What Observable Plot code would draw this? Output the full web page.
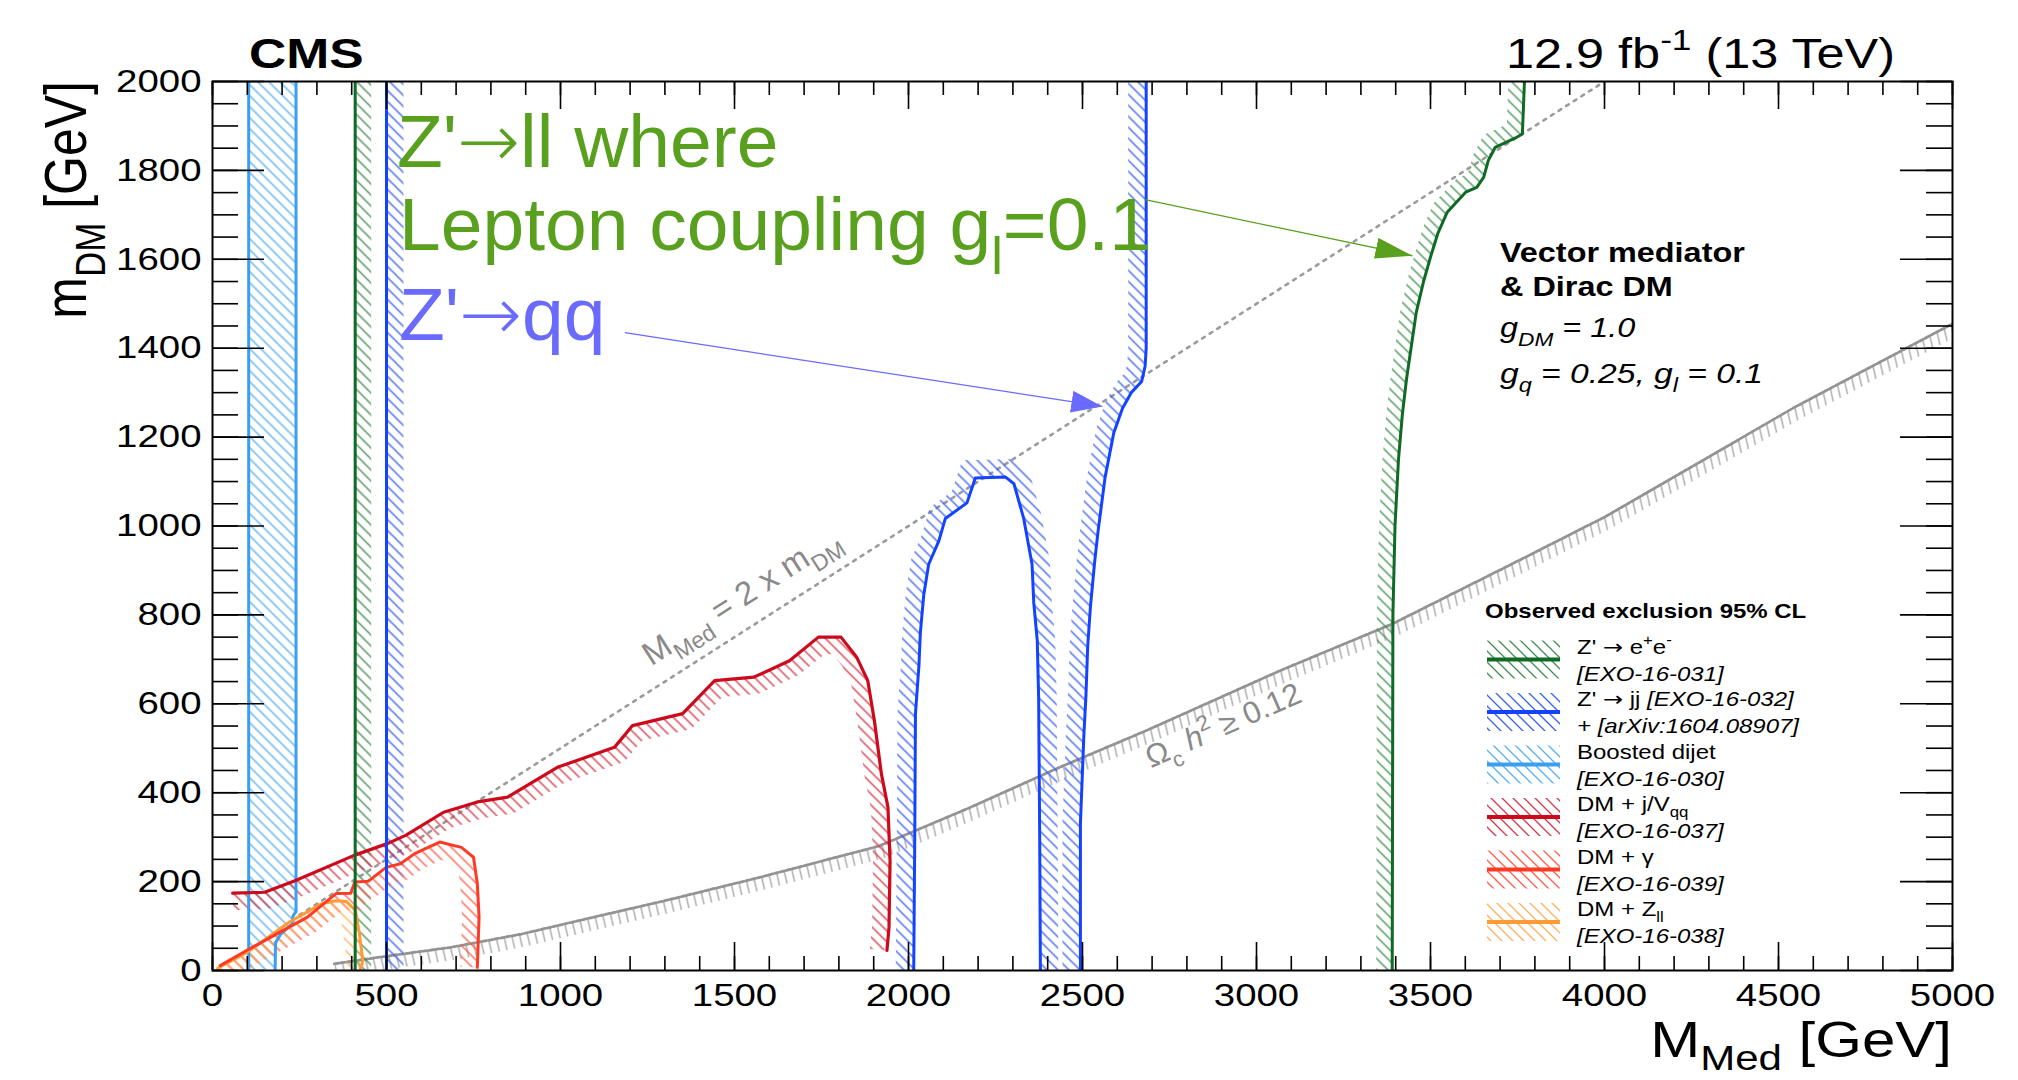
<!DOCTYPE html>
<html>
<head>
<meta charset="utf-8">
<script src="https://cdn.jsdelivr.net/npm/d3@7"></script>
<script src="https://cdn.jsdelivr.net/npm/@observablehq/plot@0.6"></script>
<style>
  html, body { margin: 0; padding: 0; background: #fff; }
  #chart { position: relative; width: 2018px; height: 1080px; overflow: hidden; background: #fff; }
  #edge { position: absolute; left: 8px; top: 0; width: 1px; height: 1080px; background: #c9d2dc; }
  #chart svg { display: block; position: absolute; left: 0; top: 0; }
</style>
</head>
<body>
<div id="chart"><div id="edge"></div></div>
<script>
// ---------------- data ----------------
const xTicks = [0, 500, 1000, 1500, 2000, 2500, 3000, 3500, 4000, 4500, 5000];
const yTicks = [0, 200, 400, 600, 800, 1000, 1200, 1400, 1600, 1800, 2000];
const xMinorTicks = d3.range(0, 5001, 100);
const yMinorTicks = d3.range(0, 2001, 50);

// Boosted dijet [EXO-16-030]
const boostedLeft = [[104, 0], [104, 2000]];
const boostedRight = [[240, 2000], [240, 133], [231, 122], [229, 105], [196, 82], [181, 62], [180, 0]];

// Z' -> ee [EXO-16-031]
const zeeLow = [[410, 0], [410, 2000]];
const zeeHigh = [[3390, 0], [3392, 800], [3398, 1000], [3408, 1150], [3419, 1250], [3431, 1330], [3459, 1480],
  [3480, 1550], [3500, 1605], [3521, 1658], [3548, 1706], [3601, 1751], [3633, 1762], [3653, 1785],
  [3666, 1822], [3686, 1852], [3744, 1873], [3764, 1882], [3770, 2000]];

// Z' -> jj [EXO-16-032] + [arXiv:1604.08907]
const zjjLow = [[500, 0], [500, 2000]];
const zjjArch = [[2015, 0], [2018, 300], [2020, 578], [2030, 686], [2034, 759], [2044, 846], [2058, 914],
  [2087, 966], [2106, 1017], [2168, 1052], [2192, 1108], [2279, 1110], [2303, 1095], [2331, 1017],
  [2355, 914], [2360, 827], [2370, 742], [2374, 613], [2377, 300], [2379, 0]];
const zjjHigh = [[2494, 0], [2494, 330], [2504, 530], [2510, 620], [2515, 730], [2523, 820], [2535, 920],
  [2545, 990], [2565, 1110], [2590, 1210], [2615, 1265], [2640, 1300], [2670, 1325], [2680, 1360],
  [2683, 1400], [2683, 2000]];

// DM + j/V_qq [EXO-16-037]
const dmJet = [[58, 174], [150, 176], [237, 202], [407, 259], [504, 286], [555, 304], [664, 356], [766, 380],
  [848, 390], [991, 457], [1155, 502], [1207, 551], [1351, 578], [1443, 652], [1556, 660], [1658, 697],
  [1741, 750], [1806, 750], [1851, 705], [1883, 652], [1902, 562], [1922, 443], [1941, 367], [1947, 247],
  [1944, 97], [1938, 45]];

// DM + gamma [EXO-16-039]
const dmGamma = [[22, 11], [98, 45], [186, 83], [273, 120], [355, 173], [397, 174], [409, 199], [448, 201],
  [499, 232], [540, 240], [581, 263], [612, 274], [653, 289], [715, 277], [750, 255], [761, 195],
  [766, 120], [761, 7]];

// DM + Z_ll [EXO-16-038]
const dmZll = [[15, 5], [98, 40], [221, 109], [313, 150], [355, 157], [385, 155], [411, 135], [422, 83],
  [432, 22], [425, 0]];

// Relic density Omega_c h^2 >= 0.12
const relic = [[350, 15], [480, 30], [684, 52], [888, 82], [1095, 120], [1300, 157], [1575, 210], [1915, 280],
  [2172, 365], [2428, 455], [2684, 540], [3069, 675], [3391, 780], [3753, 922], [4000, 1020],
  [4546, 1267], [5000, 1455]];

// M_Med = 2 x m_DM
const diagonal = [[250, 125], [4000, 2000]];

// Annotation arrows (data coordinates)
const greenArrow = [{x1: 2680, y1: 1734, x2: 3448, y2: 1608}];
const blueArrow = [{x1: 1185, y1: 1435, x2: 2557, y2: 1269}];
const diagLabelAt = [1262, 683];
const relicLabelAt = [2698, 454];

// legend texts
const legendTitle = "Observed exclusion 95% CL";
const ARROW = ["\u2192", "arrow"];
const legendFirst = [
  [["Z' "], ARROW, [" e"], ["+", "sup"], ["e"], ["-", "sup"]],
  [["Z' "], ARROW, [" jj "], ["[EXO-16-032]", "", true]],
  [["Boosted dijet"]],
  [["DM + j/V"], ["qq", "sub"]],
  [["DM + \u03b3"]],
  [["DM + Z"], ["ll", "sub"]]
];
const legendSecond = ["[EXO-16-031]", "+ [arXiv:1604.08907]", "[EXO-16-030]", "[EXO-16-037]", "[EXO-16-039]", "[EXO-16-038]"];
const legendKeys = ["green", "blue", "lblue", "dred", "red", "orange"];

// ---------------- styles ----------------
const col = {
  green:  {line: "#0f6a25", hatch: "#3f8d4f"},
  blue:   {line: "#1443ff", hatch: "#3a5ff0"},
  lblue:  {line: "#3a9ff0", hatch: "#58aef3"},
  dred:   {line: "#cc0a1c", hatch: "#d43747"},
  red:    {line: "#ff3a24", hatch: "#ff5b47"},
  orange: {line: "#ff9b35", hatch: "#ffaf5e"},
  gray:   {line: "#9b9b9b", hatch: "#a9a9a9"}
};
const annGreen = "#58a01e", annBlue = "#6a6aff";
const FONT = "'Liberation Sans', Arial, Helvetica, sans-serif";
const ARROW_FONT = "'DejaVu Sans', sans-serif";

const W = 2018, H = 1080;
const M = {left: 212, right: 66, top: 81, bottom: 110};
const plotW = W - M.left - M.right, plotH = H - M.top - M.bottom;
const sx = d3.scaleLinear([0, 5000], [M.left, W - M.right]);
const sy = d3.scaleLinear([0, 2000], [H - M.bottom, M.top]);

// hatched band on one side of a contour (offset computed in pixel space, returned in data units)
function band(pts, side, w) {
  const P = pts.map(([a, b]) => [sx(a), sy(b)]);
  const n = P.length, N = [];
  for (let i = 0; i < n - 1; i++) {
    const dx = P[i + 1][0] - P[i][0], dy = P[i + 1][1] - P[i][1];
    const L = Math.hypot(dx, dy) || 1;
    N.push([-dy / L * side, dx / L * side]);
  }
  const off = P.map((p, i) => {
    const a = N[Math.max(0, i - 1)], b = N[Math.min(n - 2, i)];
    let mx = a[0] + b[0], my = a[1] + b[1];
    const L = Math.hypot(mx, my) || 1; mx /= L; my /= L;
    const c = Math.max(0.5, mx * b[0] + my * b[1]);
    return [p[0] + mx * w / c, p[1] + my * w / c];
  });
  return P.concat(off.reverse()).map(([X, Y]) => ({x: sx.invert(X), y: sy.invert(Y)}));
}

const bands = [
  {pts: zeeLow, side: 1, key: "green", w: 16},
  {pts: zeeHigh, side: -1, key: "green", w: 16},
  {pts: zjjLow, side: 1, key: "blue", w: 17},
  {pts: zjjArch, side: -1, key: "blue", w: 18},
  {pts: zjjHigh, side: -1, key: "blue", w: 18},
  {pts: dmJet, side: 1, key: "dred", w: 17},
  {pts: dmGamma, side: 1, key: "red", w: 17},
  {pts: dmZll, side: 1, key: "orange", w: 16}
];

const P0 = d => d[0], P1 = d => d[1];
const boostedPoly = boostedLeft.concat(boostedRight);

const marks = [
  // relic density band and curve
  Plot.line(band(relic, 1, 13), {x: "x", y: "y", fill: "url(#h-gray)", stroke: "none", clip: true}),
  Plot.line(relic, {x: P0, y: P1, stroke: "#939393", strokeWidth: 2.8, strokeDasharray: "4,2", clip: true}),
  Plot.line(diagonal, {x: P0, y: P1, stroke: col.gray.line, strokeWidth: 2.6, strokeDasharray: "3,6", clip: true}),
  // boosted dijet filled hatch
  Plot.line(boostedPoly, {x: P0, y: P1, fill: "url(#h-lblue)", stroke: "none", clip: true}),
  // hatched bands
  ...bands.map(b => Plot.line(band(b.pts, b.side, b.w), {x: "x", y: "y", fill: `url(#h-${b.key})`, stroke: "none", clip: true})),
  // contour lines
  Plot.line(boostedLeft, {x: P0, y: P1, stroke: col.lblue.line, strokeWidth: 3, clip: true}),
  Plot.line(boostedRight, {x: P0, y: P1, stroke: col.lblue.line, strokeWidth: 3, clip: true}),
  Plot.line(dmZll, {x: P0, y: P1, stroke: col.orange.line, strokeWidth: 3, clip: true}),
  Plot.line(dmGamma, {x: P0, y: P1, stroke: col.red.line, strokeWidth: 3, clip: true}),
  Plot.line(dmJet, {x: P0, y: P1, stroke: col.dred.line, strokeWidth: 3.2, clip: true}),
  Plot.line(zeeLow, {x: P0, y: P1, stroke: col.green.line, strokeWidth: 3, clip: true}),
  Plot.line(zeeHigh, {x: P0, y: P1, stroke: col.green.line, strokeWidth: 3, clip: true}),
  Plot.line(zjjLow, {x: P0, y: P1, stroke: col.blue.line, strokeWidth: 3, clip: true}),
  Plot.line(zjjArch, {x: P0, y: P1, stroke: col.blue.line, strokeWidth: 3, clip: true}),
  Plot.line(zjjHigh, {x: P0, y: P1, stroke: col.blue.line, strokeWidth: 3, clip: true}),
  // ROOT style inner ticks on all four sides
  Plot.ruleX(xMinorTicks, {x: d => d, stroke: "black", strokeWidth: 1.6, insetTop: plotH - 14}),
  Plot.ruleX(xMinorTicks, {x: d => d, stroke: "black", strokeWidth: 1.6, insetBottom: plotH - 14}),
  Plot.ruleX(xTicks, {x: d => d, stroke: "black", strokeWidth: 1.6, insetTop: plotH - 28}),
  Plot.ruleX(xTicks, {x: d => d, stroke: "black", strokeWidth: 1.6, insetBottom: plotH - 28}),
  Plot.ruleY(yMinorTicks, {y: d => d, stroke: "black", strokeWidth: 1.6, insetRight: plotW - 26}),
  Plot.ruleY(yMinorTicks, {y: d => d, stroke: "black", strokeWidth: 1.6, insetLeft: plotW - 26}),
  Plot.ruleY(yTicks, {y: d => d, stroke: "black", strokeWidth: 1.6, insetRight: plotW - 52}),
  Plot.ruleY(yTicks, {y: d => d, stroke: "black", strokeWidth: 1.6, insetLeft: plotW - 52}),
  Plot.frame({stroke: "black", strokeWidth: 2}),
  // annotation arrows
  Plot.link(greenArrow, {x1: "x1", y1: "y1", x2: "x2", y2: "y2", stroke: annGreen, strokeWidth: 1.3}),
  Plot.link(blueArrow, {x1: "x1", y1: "y1", x2: "x2", y2: "y2", stroke: annBlue, strokeWidth: 1.3})
];

const chart = Plot.plot({
  width: W, height: H,
  marginLeft: M.left, marginRight: M.right, marginTop: M.top, marginBottom: M.bottom,
  x: {domain: [0, 5000], ticks: xTicks, tickSize: 0, tickPadding: 13, tickFormat: d => `${d}`, label: null},
  y: {domain: [0, 2000], ticks: yTicks, tickSize: 0, tickPadding: 11, tickFormat: d => `${d}`, label: null},
  style: {fontSize: "32px", fontFamily: FONT, color: "black", background: "white", overflow: "visible"},
  marks
});
document.getElementById("chart").appendChild(chart);

// ---------------- decorations ----------------
const svg = d3.select(chart);
const defs = svg.insert("defs", ":first-child");
function addHatch(id, color, s, sw, rot) {
  const p = defs.append("pattern").attr("id", id).attr("patternUnits", "userSpaceOnUse")
    .attr("width", s).attr("height", s);
  if (rot) p.attr("patternTransform", `rotate(${rot})`);
  p.append("path")
    .attr("d", `M0,0L${s},${s}M${-s / 2},${s / 2}L${s / 2},${1.5 * s}M${s / 2},${-s / 2}L${1.5 * s},${s / 2}`)
    .attr("stroke", color).attr("stroke-width", sw).attr("fill", "none");
}
for (const k of ["green", "blue", "lblue", "dred", "red", "orange"]) addHatch(`h-${k}`, col[k].hatch, 11, 1.3, 0);
addHatch("h-gray", col.gray.hatch, 11, 1.4, 32);

function addHead(id, color, len, wid) {
  defs.append("marker").attr("id", id).attr("viewBox", "0 0 10 10").attr("refX", 10).attr("refY", 5)
    .attr("markerUnits", "userSpaceOnUse").attr("markerWidth", len).attr("markerHeight", wid)
    .attr("orient", "auto").attr("preserveAspectRatio", "none")
    .append("path").attr("d", "M0,0L10,5L0,10Z").attr("fill", color);
}
addHead("ah-green", annGreen, 37, 21);
addHead("ah-blue", annBlue, 31, 22);
svg.selectAll(`g[stroke="${annGreen}"] path`).attr("marker-end", "url(#ah-green)");
svg.selectAll(`g[stroke="${annBlue}"] path`).attr("marker-end", "url(#ah-blue)");

// ROOT text of the (horizontally stretched) original
const STRETCH = 1.2;
function stretchText(el, s) {
  const t = el.getAttribute("transform") || "";
  const x = el.getAttribute("x");
  if (x != null && x !== "" && !isNaN(+x)) {
    el.setAttribute("transform", `${t} translate(${+x},0) scale(${s},1)`);
    el.removeAttribute("x");
  } else {
    el.setAttribute("transform", `${t} scale(${s},1)`);
  }
}
svg.selectAll('g[aria-label="x-axis tick label"] text, g[aria-label="y-axis tick label"] text, g[aria-label="x-axis"] text, g[aria-label="y-axis"] text')
  .each(function () { stretchText(this, STRETCH); });

const g = svg.append("g").attr("font-family", FONT);
function rich(x, y, parts, o) {
  const size = o.size, stretch = o.stretch ?? STRETCH, subShift = o.subShift ?? 0.32;
  const t = g.append("text")
    .attr("transform", `translate(${x},${y}) scale(${stretch},1)` + (o.rotate ? ` rotate(${o.rotate})` : ""))
    .attr("text-anchor", o.anchor || "start").attr("font-size", size)
    .attr("font-weight", o.weight || "normal").attr("font-style", o.italic ? "italic" : "normal")
    .attr("fill", o.fill || "black");
  let cur = 0;
  for (const p of parts) {
    const [str, kind, ital] = typeof p === "string" ? [p, ""] : p;
    const shift = kind === "sub" ? subShift * size : kind === "sup" ? -0.42 * size : 0;
    const ts = t.append("tspan").text(str).attr("dy", shift - cur);
    if (kind === "sub" || kind === "sup") ts.attr("font-size", size * 0.7);
    if (kind === "arrow") ts.attr("font-family", ARROW_FONT).attr("font-weight", o.arrowWeight || "normal");
    if (ital) ts.attr("font-style", "italic");
    cur = shift;
  }
  return t;
}

// header
rich(249, 68, ["CMS"], {size: 43, weight: "bold"});
rich(1895, 68, ["12.9 fb", ["-1", "sup"], " (13 TeV)"], {size: 42, anchor: "end"});
// axis titles
rich(W - M.right, 1057, ["M", ["Med", "sub"], " [GeV]"], {size: 50, anchor: "end", subShift: 0.26});
rich(86, M.top, ["m", ["DM", "sub"], " [GeV]"], {size: 50, anchor: "end", rotate: -90});

// model box
rich(1500, 262, ["Vector mediator"], {size: 27, weight: "bold"});
rich(1500, 296, ["& Dirac DM"], {size: 27, weight: "bold"});
rich(1500, 337, ["g", ["DM", "sub"], " = 1.0"], {size: 27, italic: true});
rich(1500, 383, ["g", ["q", "sub"], " = 0.25, g", ["l", "sub"], " = 0.1"], {size: 28, italic: true});

// legend
rich(1485, 618, [legendTitle], {size: 20, weight: "bold"});
const legY0 = 659.5, legDY = 52.5, legX = 1487, legW = 73, legH = 38;
legendKeys.forEach((k, i) => {
  const cy = legY0 + i * legDY;
  g.append("rect").attr("x", legX).attr("y", cy - legH / 2).attr("width", legW).attr("height", legH)
    .attr("fill", `url(#h-${k})`);
  g.append("line").attr("x1", legX).attr("x2", legX + legW).attr("y1", cy).attr("y2", cy)
    .attr("stroke", col[k].line).attr("stroke-width", 4);
  rich(1577, cy - 6, legendFirst[i], {size: 20});
  rich(1577, cy + 21, [legendSecond[i]], {size: 20, italic: true});
});

// rotated curve labels (placed with the plot's own scales)
const X = chart.scale("x"), Y = chart.scale("y");
const px = v => X.apply(v), py = v => Y.apply(v);
const diagAng = Math.atan2(py(diagonal[1][1]) - py(diagonal[0][1]), px(diagonal[1][0]) - px(diagonal[0][0])) * 180 / Math.PI;
rich(px(diagLabelAt[0]), py(diagLabelAt[1]), ["M", ["Med", "sub"], " = 2 x m", ["DM", "sub"]],
  {size: 33, fill: "#8a8a8a", rotate: diagAng, stretch: 1});
const relicAng = Math.atan2(py(relic[11][1]) - py(relic[9][1]), px(relic[11][0]) - px(relic[9][0])) * 180 / Math.PI;
const rl = rich(px(relicLabelAt[0]), py(relicLabelAt[1]), ["\u03a9", ["c", "sub"], " ", "h", ["2", "sup"], " \u2265 0.12"],
  {size: 31, fill: "#8a8a8a", rotate: relicAng, stretch: 1});
rl.selectAll("tspan").filter(function () { return this.textContent === "h"; }).attr("font-style", "italic");

// slide annotations
rich(397, 167, ["Z'", ARROW, "ll where"], {size: 75, fill: annGreen, stretch: 1, arrowWeight: 200});
rich(399, 250, ["Lepton coupling g", ["l", "sub"], "=0.1"], {size: 75, fill: annGreen, stretch: 1});
rich(399, 340, ["Z'", ARROW, "qq"], {size: 75, fill: annBlue, stretch: 1, arrowWeight: 200});
</script>
</body>
</html>
